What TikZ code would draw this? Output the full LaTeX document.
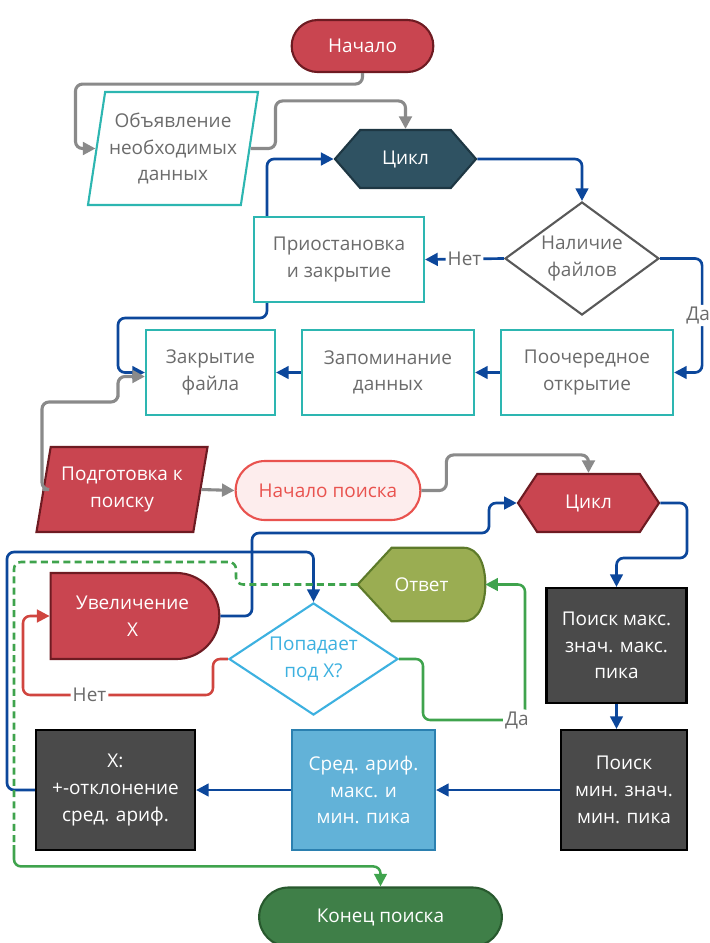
\documentclass[tikz,border=0pt]{standalone}
\usepackage{fontspec}
\setmainfont{Open Sans}
\usetikzlibrary{shapes.geometric,shapes.misc,shapes.symbols,arrows.meta,backgrounds}
\definecolor{flowred}{HTML}{C94550}
\definecolor{flowredline}{HTML}{6E1B22}
\definecolor{boxteal}{HTML}{2DB6B1}
\definecolor{slate}{HTML}{2F5262}
\definecolor{slateline}{HTML}{1E3743}
\definecolor{txtgray}{HTML}{6B6B6B}
\definecolor{linkblue}{HTML}{0C479B}
\definecolor{linkgray}{HTML}{8A8A8A}
\definecolor{linkred}{HTML}{D0453F}
\definecolor{linkgreen}{HTML}{3FA34D}
\definecolor{pinkfill}{HTML}{FDEDED}
\definecolor{pinkline}{HTML}{E9534F}
\definecolor{boxdark}{HTML}{4A4A4A}
\definecolor{skyfill}{HTML}{62B2D8}
\definecolor{skyline}{HTML}{2B80B0}
\definecolor{askblue}{HTML}{3DB1E0}
\definecolor{olive}{HTML}{9AAD52}
\definecolor{oliveline}{HTML}{5D7A2A}
\definecolor{endgreen}{HTML}{3F7F48}
\definecolor{endgreenline}{HTML}{28592E}

\begin{document}
\begin{tikzpicture}[x=0.025cm, y=-0.025cm,
  font=\fontsize{13.5}{19}\selectfont,
  endtip/.style={-{Triangle[length=9pt,width=9pt]}},
  blueline/.style={draw=linkblue, line width=1.9pt, rounded corners=5pt, endtip},
  grayline/.style={draw=linkgray, line width=2.2pt, rounded corners=5pt, endtip},
  redline/.style={draw=linkred, line width=1.8pt, rounded corners=5pt, endtip},
  greenline/.style={draw=linkgreen, line width=1.8pt, rounded corners=5pt},
  tealbox/.style={rectangle, draw=boxteal, line width=1.5pt, fill=white, text=txtgray, align=center, inner sep=2pt},
  darkbox/.style={rectangle, draw=black, line width=1.5pt, fill=boxdark, text=white, align=center, inner sep=2pt},
  redfill/.style={draw=flowredline, line width=1.5pt, fill=flowred, text=white, align=center},
  slant/.style={trapezium, trapezium stretches body=true, inner sep=0pt, align=center},
  hexa/.style={signal, signal to=east and west, line width=1.5pt, text=white, minimum width=3.525cm, minimum height=1.45cm},
  lbl/.style={fill=white, text=txtgray, inner sep=1.5pt},
]
\useasboundingbox (0,0) rectangle (710,943);

% upper part
\node[rounded rectangle, redfill, minimum width=3.775cm, minimum height=1.3cm] (start) at (362.5,46) {Начало};
\node[slant, draw=boxteal, line width=1.5pt, text=txtgray, minimum width=4.25cm, minimum height=2.825cm,
  trapezium left angle=76.5, trapezium right angle=103.5] (decl) at (173,148.5) {Объявление\\необходимых\\данных};
\node[hexa, fill=slate, draw=slateline, signal pointer angle=98] (cyc1) at (405.5,159) {Цикл};
\node[diamond, draw=black!65, line width=1.5pt, text=txtgray, align=center, inner sep=0pt, aspect=1.36,
  minimum width=3.85cm, minimum height=2.825cm] (dec1) at (582,258.5) {Наличие\\файлов};
\node[tealbox, minimum width=4.25cm, minimum height=2.125cm] (pause) at (339,259.5) {Приостановка\\и закрытие};
\node[tealbox, minimum width=4.3cm, minimum height=2.125cm] (open) at (587,372.5) {Поочередное\\открытие};
\node[tealbox, minimum width=4.3cm, minimum height=2.125cm] (store) at (388,372.5) {Запоминание\\данных};
\node[tealbox, minimum width=3.225cm, minimum height=2.125cm] (closef) at (210.5,372.5) {Закрытие\\файла};

\draw[grayline] (start.south) -- ++(0,11) -| ([xshift=-0.5cm]decl.west) -- (decl.west);
\draw[grayline] (decl.east) -- ++(25,0) |- ([yshift=0.7cm]cyc1.north) -- (cyc1.north);
\draw[blueline] (cyc1.east) -| (dec1.north);
\draw[blueline] (dec1.west) -- node[lbl] {Нет} (pause.east);
\draw[blueline] (dec1.east) -| node[lbl, pos=0.75, xshift=-0.1cm] {Да} ([xshift=0.7cm]open.east) -- (open.east);
\draw[blueline] (open.west) -- (store.east);
\draw[blueline] (store.west) -- (closef.east);
\draw[blueline] ([xshift=-1.8cm]pause.north) |- (cyc1.west);
\draw[blueline] ([xshift=-1.8cm]pause.south) |- (118,318) |- (closef.west);

% lower part
\node[slant, redfill, minimum width=4.275cm, minimum height=2.125cm,
  trapezium left angle=72.4, trapezium right angle=107.6] (prep) at (122,489.5) {Подготовка к\\поиску};
\node[rounded rectangle, draw=pinkline, line width=1.5pt, fill=pinkfill, text=pinkline,
  minimum width=4.85cm, minimum height=1.475cm] (sstart) at (328,490.5) {Начало поиска};
\node[hexa, fill=flowred, draw=flowredline, signal pointer angle=113] (cyc2) at (588.5,503) {Цикл};
\node[darkbox, minimum width=3.5cm, minimum height=2.875cm] (pmax) at (616.5,645.5) {Поиск макс.\\знач. макс.\\пика};
\node[darkbox, minimum width=3.15cm, minimum height=3cm] (pmin) at (624,790) {Поиск\\мин. знач.\\мин. пика};
\node[rectangle, draw=skyline, line width=1.5pt, fill=skyfill, text=white, align=center,
  minimum width=3.575cm, minimum height=3cm] (avg) at (363.5,790) {Сред. ариф.\\макс. и\\мин. пика};
\node[darkbox, minimum width=3.975cm, minimum height=3cm] (xdev) at (115.5,790) {Х:\\+-отклонение\\сред. ариф.};
\node[diamond, draw=askblue, line width=1.5pt, fill=white, text=askblue, align=center, inner sep=0pt, aspect=1.5,
  minimum width=4.225cm, minimum height=2.8cm] (dec2) at (313.5,659) {Попадает\\под Х?};
\node[rounded rectangle, rounded rectangle left arc=none, redfill,
  minimum width=4.45cm, minimum height=2.15cm] (incr) at (132.5,616) {Увеличение\\Х};
\node[text=white, minimum width=3.175cm, minimum height=1.825cm, inner sep=0pt] (answer) at (421.5,584.5) {Ответ};
\begin{pgfonlayer}{background}
\draw[fill=olive, draw=oliveline, line width=1.5pt] (answer.west) -- ([xshift=0.85cm]answer.north west)
  -- ([xshift=-0.55cm]answer.north east) to[out=0,in=90] (answer.east)
  to[out=-90,in=0] ([xshift=-0.55cm]answer.south east) -- ([xshift=0.85cm]answer.south west) -- cycle;
\end{pgfonlayer}
\node[rounded rectangle, draw=endgreenline, line width=1.5pt, fill=endgreen, text=white,
  minimum width=6.3cm, minimum height=1.475cm] (send) at (380.5,917) {Конец поиска};

\draw[grayline] (prep.west) -| (42,402) -| (118,390) |- ([yshift=-0.1cm]closef.west);
\draw[grayline] (prep.east) -- (sstart.west);
\draw[grayline] (sstart.east) -- ++(25,0) |- ([yshift=0.45cm]cyc2.north) -- (cyc2.north);
\draw[blueline] (cyc2.east) -| (687,558) -| (pmax.north);
\draw[blueline] (pmax.south) -- (pmax.south |- pmin.north);
\draw[blueline] (pmin.west) -- (avg.east);
\draw[blueline] (avg.west) -- (xdev.east);
\draw[blueline] (xdev.west) -| (7,552) -| (dec2.north);
\draw[blueline] (incr.east) -| (252,533) -| (489,520) |- (cyc2.west);
\draw[redline] (dec2.west) -| (213,695) -- node[lbl, pos=0.65] {Нет} (23,695) |- (incr.west);
\draw[greenline, endtip] (dec2.east) -| (423,720) -- (525,720) node[lbl, xshift=-0.2cm] (yes2) {Да} |- (answer.east);
\draw[greenline, dashed, dash pattern=on 5pt off 3pt] (answer.west) -| (236,562) -| (14,845) coordinate (dashend);
\draw[greenline, endtip] (dashend) |- ([yshift=0.5cm]send.north) -- (send.north);
\end{tikzpicture}
\end{document}
